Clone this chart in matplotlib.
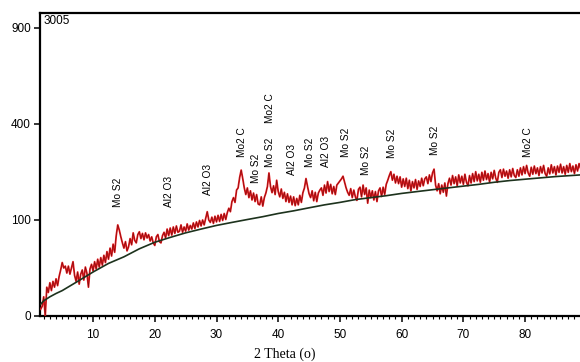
import numpy as np
import matplotlib
matplotlib.use('Agg')
from matplotlib import pyplot as plt
from matplotlib.ticker import MultipleLocator

# measured counts, 2theta from 1.5 in steps of 0.25 (one row per degree)
counts = [
    0.5, 1,
    4, 0, 9, 6,            # 2
    12, 7, 13, 9,          # 3
    15, 10, 17, 23,        # 4
    31, 25, 27, 20,        # 5
    27, 19, 25, 32,        # 6
    18, 13, 21, 11,        # 7
    19, 23, 14, 26,        # 8
    20, 9, 24, 29,         # 9
    22, 32, 24, 35,        # 10
    26, 37, 28, 40,        # 11
    31, 45, 35, 50,        # 12
    39, 56, 44, 70,        # 13
    90, 80, 68, 58,        # 14
    50, 60, 46, 52,        # 15
    65, 55, 75, 62,        # 16
    58, 72, 77, 65,        # 17
    74, 63, 75, 66,        # 18
    72, 61, 68, 58,        # 19
    54, 68, 72, 60,        # 20
    58, 70, 76, 66,        # 21
    82, 70, 84, 71,        # 22
    86, 74, 88, 76,        # 23
    78, 90, 76, 86,        # 24
    78, 92, 80, 89,        # 25
    82, 94, 83, 96,        # 26
    86, 99, 88, 100,       # 27
    90, 104, 118, 100,     # 28
    95, 106, 93, 108,      # 29
    96, 110, 97, 112,      # 30
    99, 114, 101, 116,     # 31
    126, 118, 142, 152,    # 32
    140, 172, 178, 208,    # 33
    231, 205, 178, 160,    # 34
    178, 152, 170, 146,    # 35
    164, 142, 160, 136,    # 36
    134, 154, 131, 152,    # 37
    164, 182, 222, 182,    # 38
    165, 184, 160, 200,    # 39
    168, 154, 175, 150,    # 40
    166, 142, 162, 140,    # 41
    156, 134, 154, 132,    # 42
    150, 134, 158, 140,    # 43
    165, 178, 205, 182,    # 44
    162, 152, 170, 144,    # 45
    166, 142, 164, 172,    # 46
    178, 158, 186, 164,    # 47
    196, 168, 188, 162,    # 48
    182, 160, 186, 192,    # 49
    198, 204, 212, 195,    # 50
    178, 166, 158, 176,    # 51
    152, 172, 154, 145,    # 52
    174, 180, 154, 186,    # 53
    160, 178, 138, 172,    # 54
    152, 170, 146, 168,    # 55
    142, 170, 178, 155,    # 56
    180, 160, 188, 200,    # 57
    214, 226, 200, 218,    # 58
    192, 212, 190, 210,    # 59
    180, 204, 182, 206,    # 60
    176, 200, 170, 196,    # 61
    178, 202, 174, 198,    # 62
    182, 206, 184, 204,    # 63
    210, 190, 216, 196,    # 64
    222, 234, 186, 170,    # 65
    190, 162, 186, 166,    # 66
    192, 156, 190, 206,    # 67
    186, 214, 190, 210,    # 68
    184, 216, 192, 212,    # 69
    188, 218, 194, 184,    # 70
    214, 192, 220, 196,    # 71
    226, 198, 218, 194,    # 72
    224, 200, 228, 202,    # 73
    220, 194, 224, 204,    # 74
    230, 206, 194, 224,    # 75
    232, 208, 234, 212,    # 76
    228, 206, 232, 210,    # 77
    236, 214, 208, 232,    # 78
    212, 238, 216, 242,    # 79
    220, 246, 222, 212,    # 80
    240, 218, 244, 220,    # 81
    238, 214, 242, 222,    # 82
    246, 220, 212, 238,    # 83
    219, 248, 222, 242,    # 84
    216, 244, 224, 250,    # 85
    222, 242, 218, 246,    # 86
    224, 252, 226, 244,    # 87
    220, 248, 228, 252,    # 88
    236,
]
two_theta = 1.5 + 0.25 * np.arange(len(counts))

# fitted background
bg_theta = [1.5, 2, 3, 4, 5, 7.5, 10, 12.5, 15, 17.5, 20, 22.5, 25, 27.5, 30,
            32.5, 35, 37.5, 40, 42.5, 45, 47.5, 50, 52.5, 55, 57.5, 60, 62.5,
            65, 67.5, 70, 72.5, 75, 77.5, 80, 82.5, 85, 89]
bg_counts = [1.5, 2.5, 4, 5.5, 7, 13, 21, 30, 38, 49, 59, 67, 75, 82, 89,
             95, 101, 107, 114, 120, 127, 134, 140, 147, 152, 157, 163, 168,
             173, 178, 183, 188, 194, 199, 203, 207, 211, 216]

# phase markers
peak_theta = [14.05, 22.3, 28.6, 34.1, 36.4, 38.6, 38.6, 42.2, 45.2, 47.8,
              51.0, 54.2, 58.5, 65.4, 80.5]
peak_names = ['Mo S2', 'Al2 O3', 'Al2 O3', 'Mo2 C', 'Mo S2', 'Mo S2', 'Mo2 C',
              'Al2 O3', 'Mo S2', 'Al2 O3', 'Mo S2', 'Mo S2', 'Mo S2', 'Mo S2',
              'Mo2 C']
label_y = [129, 129, 159, 274, 192, 241, 404, 216, 241, 241,
           274, 216, 271, 281, 274]

yticks = [0, 100, 400, 900]
xticks = [10, 20, 30, 40, 50, 60, 70, 80]

plt.rcParams['font.family'] = 'Liberation Sans'

fig = plt.figure(figsize=(5.8, 3.62), dpi=100)
ax = fig.add_axes([40/580., 46/362., 540/580., 303/362.])

ax.set_yscale('function', functions=(lambda v: np.sqrt(np.clip(v, 0, None)),
                                     lambda v: np.square(v)))

ax.plot(two_theta, counts, color='#ee1c20', lw=1.3, zorder=3)
ax.plot(two_theta, counts, color='#200303', lw=0.45, alpha=0.55, zorder=4)
ax.plot(bg_theta, bg_counts, color='#1d321d', lw=1.2, zorder=5)

for t, name, yy in zip(peak_theta, peak_names, label_y):
    ax.text(t, yy, name, rotation=90, ha='center', va='bottom',
            fontsize=7.3, color='black')

ax.text(0.006, 0.993, '3005', transform=ax.transAxes, ha='left', va='top',
        fontsize=8.5)

ax.set_xlim(1.4, 88.9)
ax.set_ylim(0, 996)
ax.set_yticks(yticks)
ax.set_xticks(xticks)
ax.xaxis.set_minor_locator(MultipleLocator(1))
ax.tick_params(axis='both', which='major', direction='out', length=4.5,
               width=1.1, labelsize=8.5, pad=2)
ax.tick_params(axis='x', which='major', pad=5)
ax.tick_params(axis='x', which='minor', direction='out', length=2.5, width=0.8)

for side in ['left', 'bottom', 'top']:
    ax.spines[side].set_linewidth(1.6)
ax.spines['right'].set_visible(False)

fig.text(285/580., 1 - 354/362., '2 Theta (o)', ha='center', va='center',
         fontsize=10, family='Liberation Serif')

fig.savefig('out.png', dpi=100)
